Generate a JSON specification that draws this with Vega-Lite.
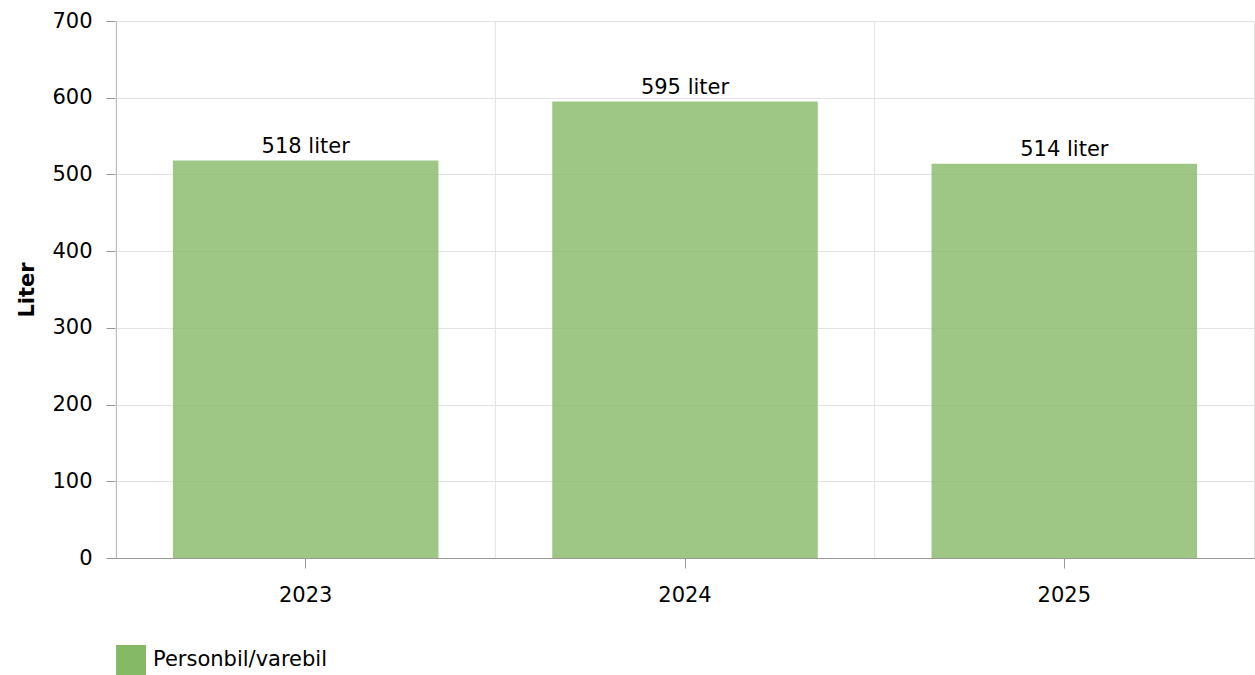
{
  "$schema": "https://vega.github.io/schema/vega-lite/v6.json",
  "width": 1138,
  "height": 537,
  "autosize": "none",
  "padding": {"left": 116, "top": 21, "right": 1, "bottom": 117},
  "background": "white",
  "config": {
    "font": "DejaVu Sans",
    "view": {"stroke": "#e3e3e3", "strokeWidth": 1},
    "axis": {
      "labelFont": "DejaVu Sans",
      "labelFontSize": 21,
      "labelColor": "#000",
      "titleFont": "DejaVu Sans",
      "titleFontSize": 21,
      "titleColor": "#000",
      "domainColor": "#999999",
      "tickColor": "#999999",
      "gridColor": "#e3e3e3",
      "tickSize": 10
    },
    "legend": {
      "labelFont": "DejaVu Sans",
      "labelFontSize": 21,
      "labelColor": "#000"
    }
  },
  "data": {
    "values": [
      {"year": "2023", "value": 518, "serie": "Personbil/varebil"},
      {"year": "2024", "value": 595, "serie": "Personbil/varebil"},
      {"year": "2025", "value": 514, "serie": "Personbil/varebil"}
    ]
  },
  "transform": [{"calculate": "datum.value + ' liter'", "as": "label"}],
  "encoding": {
    "x": {
      "field": "year",
      "type": "nominal",
      "scale": {"paddingInner": 0, "paddingOuter": 0},
      "axis": {
        "title": null,
        "labelAngle": 0,
        "grid": false,
        "labelPadding": 16
      }
    }
  },
  "layer": [
    {
      "mark": {"type": "rule", "color": "#e3e3e3", "strokeWidth": 1},
      "encoding": {
        "x": {"field": "year", "type": "nominal", "bandPosition": 0}
      }
    },
    {
      "mark": {"type": "bar", "width": {"band": 0.7}, "opacity": 0.8},
      "encoding": {
        "y": {
          "field": "value",
          "type": "quantitative",
          "scale": {"domain": [0, 700]},
          "axis": {
            "title": "Liter",
            "titleFontWeight": "bold",
            "titleAngle": -90,
            "titleX": -89,
            "titleY": 268.5,
            "titleAlign": "center",
            "titleBaseline": "middle",
            "values": [0, 100, 200, 300, 400, 500, 600, 700],
            "labelPadding": 14,
            "grid": true
          }
        },
        "color": {
          "field": "serie",
          "type": "nominal",
          "scale": {"range": ["#86b966"]},
          "legend": {
            "title": null,
            "orient": "none",
            "legendX": 0,
            "legendY": 624,
            "symbolType": "square",
            "symbolSize": 900,
            "symbolOpacity": 1,
            "symbolStrokeWidth": 0,
            "labelOffset": 7,
            "labelLimit": 0,
            "padding": 0
          }
        }
      }
    },
    {
      "mark": {"type": "text", "baseline": "bottom", "dy": -4, "fontSize": 21, "color": "#000", "font": "DejaVu Sans"},
      "encoding": {
        "y": {"field": "value", "type": "quantitative"},
        "text": {"field": "label"}
      }
    }
  ]
}
